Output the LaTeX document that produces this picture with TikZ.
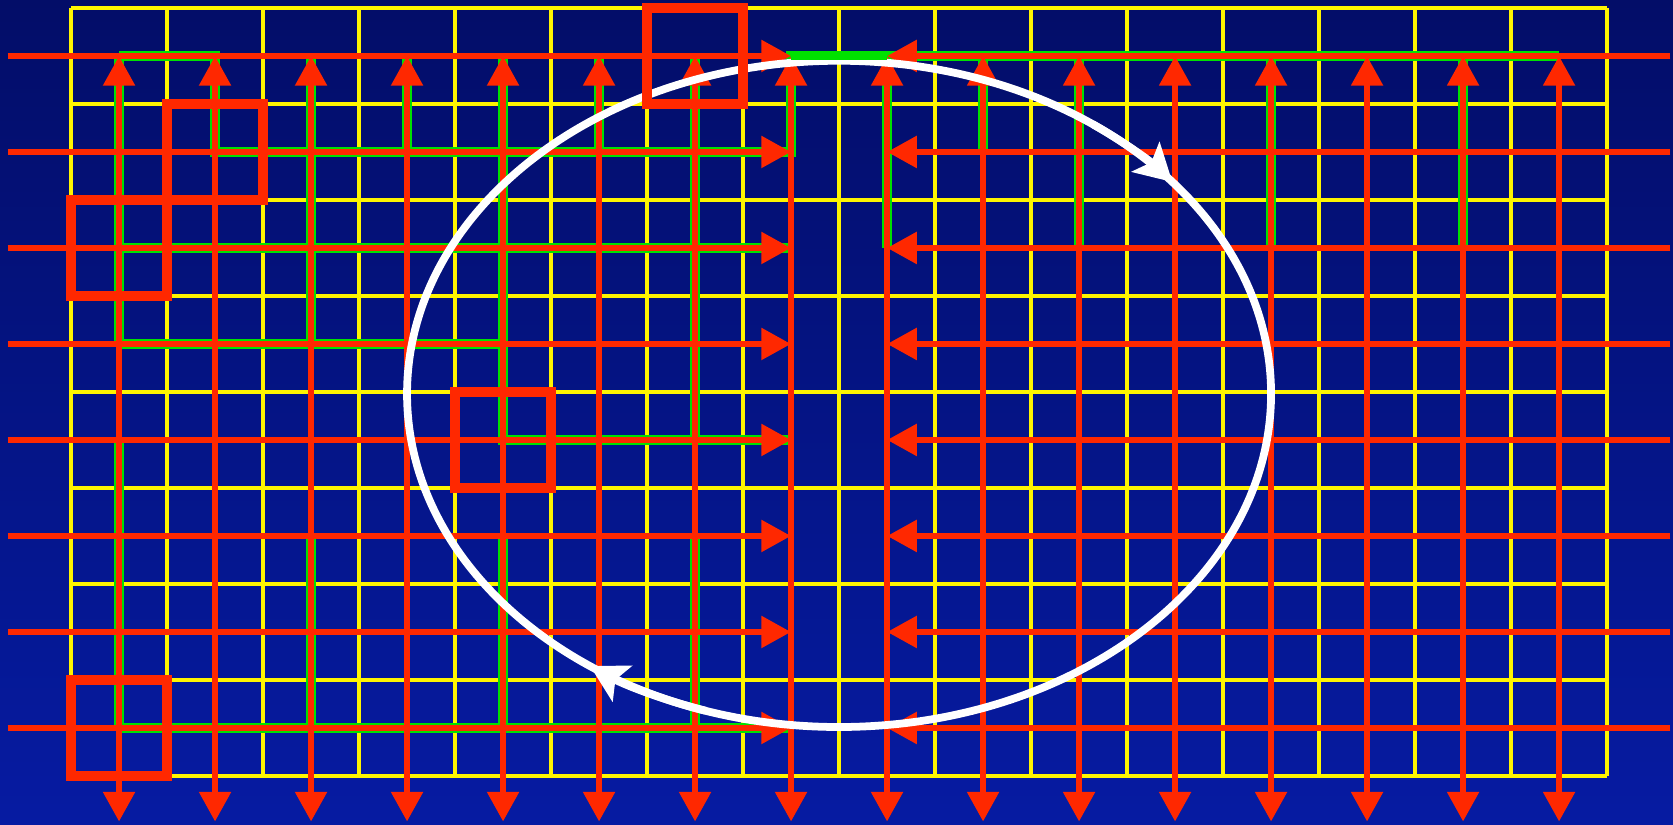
\documentclass[tikz,border=0pt]{standalone}
\usetikzlibrary{arrows.meta}
\definecolor{bgtop}{RGB}{3,13,104}
\definecolor{bgbot}{RGB}{6,27,162}
\definecolor{gridyel}{RGB}{255,245,0}
\definecolor{flowred}{RGB}{255,40,0}
\definecolor{contgreen}{RGB}{0,225,0}
\begin{document}
\begin{tikzpicture}[
    >={Triangle[length=0.31cm,width=0.32cm]},
    flow/.style={draw=flowred, line width=1.9pt, ->},
    contour/.style={draw=contgreen, line width=3pt},
    cellbox/.style={draw=flowred, line width=2.8pt},
    swirl/.style={draw=white, line width=2.3pt}
  ]
    \useasboundingbox (-0.74,-0.51) rectangle (16.687,8.083);
    \shade[top color=bgtop, bottom color=bgbot] (-0.74,-0.51) rectangle (16.687,8.083);
    \draw[gridyel, line width=1pt] (0,0) grid (16,8);
    \draw[contour] (0.5,7.5) -- (1.5,7.5) -- (1.5,6.5) -- (7.5,6.5) -- (7.5,7.5) -- (15.5,7.5);
    \draw[contour] (0.5,4.5) -- (0.5,7.5);
    \draw[contour] (0.5,0.5) -- (0.5,3.5);
    \draw[contour] (0.5,5.5) -- (7.5,5.5);
    \draw[contour] (0.5,4.5) -- (4.5,4.5);
    \draw[contour] (4.5,7.5) -- (4.5,3.5) -- (7.5,3.5);
    \draw[contour] (0.5,0.5) -- (7.5,0.5);
    \draw[contour] (2.5,4.5) -- (2.5,7.5);
    \draw[contour] (6.5,3.5) -- (6.5,7.5);
    \foreach \x in {2.5,4.5,6.5}
        \draw[contour] (\x,0.5) -- (\x,2.5);
    \foreach \x in {3.5,5.5,9.5}
        \draw[contour] (\x,6.5) -- (\x,7.5);
    \foreach \x in {8.5,10.5,12.5,14.5}
        \draw[contour] (\x,5.5) -- (\x,7.5);
    \foreach \y in {0.5,1.5,...,7.5} {
        \draw[flow] (-0.66,\y) -- (7.5,\y);
        \draw[flow] (16.66,\y) -- (8.5,\y);
    }
    \foreach \x in {0.5,1.5,...,15.5}
        \draw[flow, <->] (\x,7.5) -- (\x,-0.475);
    \draw[swirl] (8,3.98) ellipse[x radius=4.5, y radius=3.47];
    \draw[swirl, -{Stealth[length=0.38cm,width=0.42cm,inset=0.08cm]}] (8,3.98) ++(54:4.5 and 3.47)
        arc[start angle=54, end angle=39.5, x radius=4.5, y radius=3.47];
    \draw[swirl, -{Stealth[length=0.38cm,width=0.42cm,inset=0.08cm]}] (8,3.98) ++(252:4.5 and 3.47)
        arc[start angle=252, end angle=234.8, x radius=4.5, y radius=3.47];
    \draw[contgreen, line width=2.6pt] (7.5,7.5) -- (8.5,7.5);
    \draw[cellbox] (6,7) rectangle (7,8);
    \draw[cellbox] (1,6) rectangle (2,7);
    \draw[cellbox] (0,5) rectangle (1,6);
    \draw[cellbox] (4,3) rectangle (5,4);
    \draw[cellbox] (0,0) rectangle (1,1);
\end{tikzpicture}
\end{document}
